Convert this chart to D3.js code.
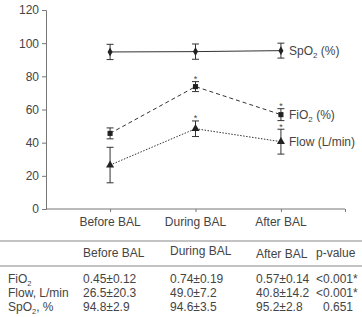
<!DOCTYPE html>
<html>
<head>
<meta charset="utf-8">
<script src="https://cdn.jsdelivr.net/npm/d3@7"></script>
<style>
body { margin: 0; background: #fff; }
text { font-family: "Liberation Sans", Arial, sans-serif; fill: #444; }
</style>
</head>
<body>
<div id="chart"></div>
<script>
const phases = ['Before BAL', 'During BAL', 'After BAL'];
const yTicks = [0, 20, 40, 60, 80, 100, 120];

const spo2Mean = [94.7, 94.9, 95.5];
const spo2Err = [4.6, 4.6, 4.5];
const fio2Mean = [45.6, 73.8, 56.9];
const fio2Err = [3.3, 3.0, 3.6];
const flowMean = [26.5, 48.4, 40.6];
const flowErr = [10.7, 4.7, 7.5];
const fio2Star = [false, true, true];
const flowStar = [false, true, true];

const tableHead = ['Before BAL', 'During BAL', 'After BAL', 'p-value'];
const rowLabels = ['FiO', 'Flow, L/min', 'SpO'];
const rowSub = ['2', '', '2'];
const rowSuffix = ['', '', ', %'];
const tableVals = [
    ['0.45±0.12', '0.74±0.19', '0.57±0.14', '<0.001*'],
    ['26.5±20.3', '49.0±7.2', '40.8±14.2', '<0.001*'],
    ['94.8±2.9', '94.6±3.5', '95.2±2.8', '0.651']
];

function drawChart() {
    const width = 362, height = 317;
    const svg = d3.select('#chart').append('svg')
        .attr('width', width).attr('height', height);

    const x = d3.scaleLinear().domain([0, 3.5]).range([46, 345]);
    const y = d3.scaleLinear().domain([0, 120]).range([209, 10]);
    const xPos = i => x(i + 0.75);

    const axisColor = '#777';

    // y axis
    const yAxis = svg.append('g').attr('transform', 'translate(46,0)')
        .call(d3.axisLeft(y).tickValues(yTicks).tickSize(4).tickPadding(3));
    yAxis.selectAll('path, line').attr('stroke', axisColor);
    yAxis.selectAll('text').style('font-size', '12px').attr('fill', '#444');

    // x axis
    const xAxis = svg.append('g').attr('transform', 'translate(0,209)')
        .call(d3.axisBottom(x).tickValues([0.75, 1.75, 2.75, 3.5]).tickSize(3)
            .tickSizeOuter(0).tickFormat(''));
    xAxis.selectAll('path, line').attr('stroke', axisColor);
    xAxis.select('.domain').attr('d', 'M46,0H345');

    svg.selectAll('.cat').data(phases).enter().append('text')
        .attr('x', (d, i) => xPos(i)).attr('y', 226)
        .attr('text-anchor', 'middle').style('font-size', '12px')
        .text(d => d);

    const series = [
        { mean: spo2Mean, err: spo2Err, dash: null, shape: d3.symbolDiamond, size: 22, stars: [false, false, false] },
        { mean: fio2Mean, err: fio2Err, dash: '4,3', shape: d3.symbolSquare, size: 26, stars: fio2Star },
        { mean: flowMean, err: flowErr, dash: '1.5,1.5', shape: d3.symbolTriangle, size: 28, stars: flowStar }
    ];

    const line = d3.line().x((d, i) => xPos(i)).y(d => y(d));
    const ink = '#333';

    series.forEach(s => {
        svg.append('path').datum(s.mean)
            .attr('d', line).attr('fill', 'none')
            .attr('stroke', ink).attr('stroke-width', 1)
            .attr('stroke-dasharray', s.dash);

        const g = svg.append('g');
        s.mean.forEach((m, i) => {
            const cx = xPos(i);
            const top = y(m + s.err[i]), bot = y(m - s.err[i]);
            g.append('line').attr('x1', cx).attr('x2', cx).attr('y1', top).attr('y2', bot)
                .attr('stroke', ink).attr('stroke-width', 1);
            [top, bot].forEach(yy => {
                g.append('line').attr('x1', cx - 3.5).attr('x2', cx + 3.5)
                    .attr('y1', yy).attr('y2', yy).attr('stroke', ink).attr('stroke-width', 1);
            });
            g.append('path').attr('d', d3.symbol().type(s.shape).size(s.size))
                .attr('transform', 'translate(' + cx + ',' + y(m) + ')')
                .attr('fill', '#222');
            if (s.stars[i]) {
                g.append('text').attr('x', cx).attr('y', top + 0.5)
                    .attr('text-anchor', 'middle').style('font-size', '9px').text('*');
            }
        });
    });

    // series labels
    const labels = [
        { base: 'SpO', sub: '2', rest: ' (%)', y: y(spo2Mean[2]) },
        { base: 'FiO', sub: '2', rest: ' (%)', y: y(fio2Mean[2]) },
        { base: 'Flow (L/min)', sub: '', rest: '', y: y(flowMean[2]) }
    ];
    labels.forEach(l => {
        const t = svg.append('text').attr('x', 289).attr('y', l.y + 4).style('font-size', '12px');
        t.append('tspan').text(l.base);
        if (l.sub) {
            t.append('tspan').attr('dy', 3).style('font-size', '8px').text(l.sub);
            t.append('tspan').attr('dy', -3).text(l.rest);
        }
    });

    // table
    svg.append('line').attr('x1', 0).attr('x2', width).attr('y1', 241).attr('y2', 241)
        .attr('stroke', '#888').attr('stroke-width', 1.2);
    svg.append('line').attr('x1', 0).attr('x2', width).attr('y1', 266).attr('y2', 266)
        .attr('stroke', '#888').attr('stroke-width', 1.2);

    const colX = [83, 170, 256, 316];
    const headY = [257, 255, 258, 257];
    tableHead.forEach((h, i) => {
        svg.append('text').attr('x', colX[i]).attr('y', headY[i])
            .style('font-size', '12px').text(h);
    });

    const rowY = [283, 297, 311];
    rowLabels.forEach((r, j) => {
        const t = svg.append('text').attr('x', 8).attr('y', rowY[j]).style('font-size', '12px');
        t.append('tspan').text(r);
        if (rowSub[j]) {
            t.append('tspan').attr('dy', 2.5).style('font-size', '7.5px').text(rowSub[j]);
            t.append('tspan').attr('dy', -2.5).text(rowSuffix[j]);
        }
        tableVals[j].forEach((v, i) => {
            let xx = colX[i];
            if (i === 3 && v === '0.651') xx = 323;
            svg.append('text').attr('x', xx).attr('y', rowY[j])
                .style('font-size', '12px').text(v);
        });
    });
}

drawChart();
</script>
</body>
</html>
